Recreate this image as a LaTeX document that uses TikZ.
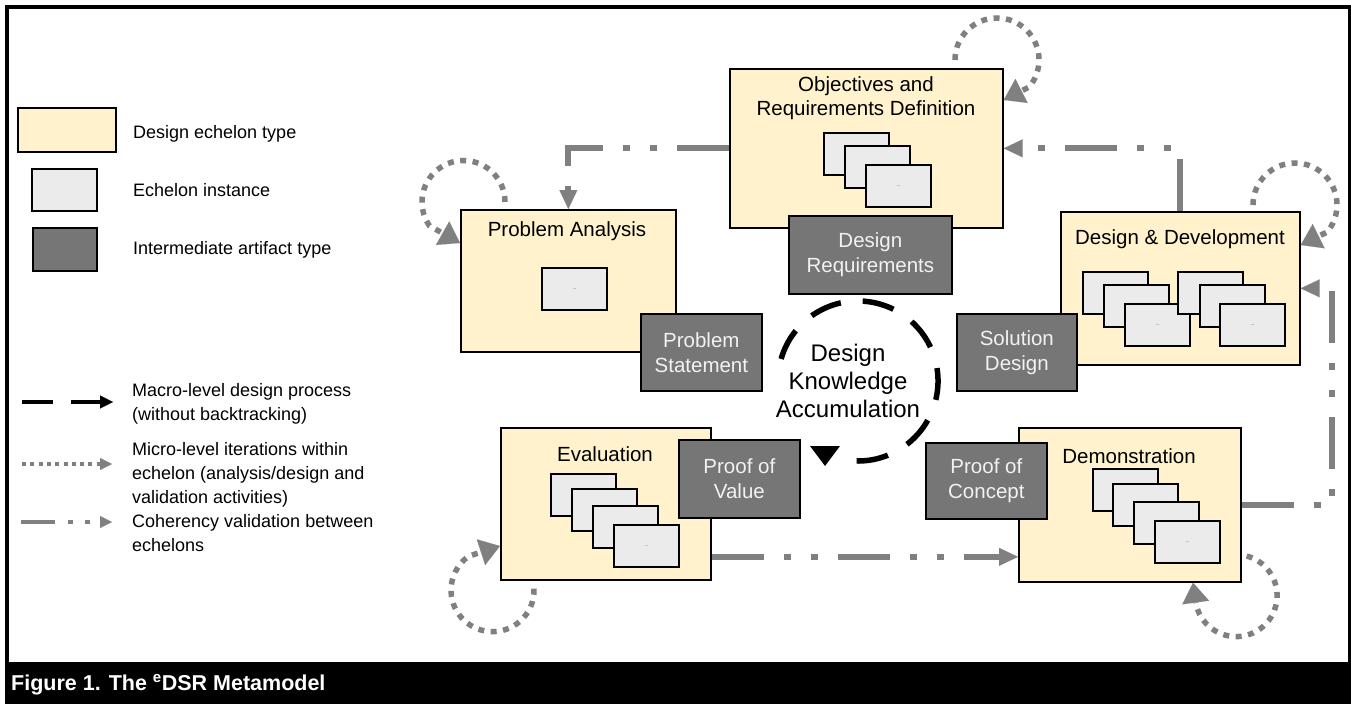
\documentclass[tikz,border=0pt]{standalone}
\usepackage{fontspec}
\setmainfont{Liberation Sans}
\usetikzlibrary{arrows.meta,calc}
\definecolor{cream}{HTML}{FFF2CC}
\definecolor{instgrey}{HTML}{EBEBEB}
\definecolor{artgrey}{HTML}{767676}
\definecolor{linegrey}{HTML}{808080}
\definecolor{lighttext}{HTML}{F2F2F2}
\tikzset{
  echelon/.style={draw=black, line width=1.7pt, fill=cream, inner sep=0pt, anchor=north west},
  inst/.style={draw=black, line width=1.7pt, fill=instgrey, inner sep=0pt, anchor=north west,
    minimum width=65pt, minimum height=42pt, font=\fontsize{4}{4}\selectfont},
  artifact/.style={draw=black, line width=1.7pt, fill=artgrey, text=lighttext, align=center,
    inner sep=0pt, anchor=north west, font=\fontsize{20.5}{25}\selectfont},
  etitle/.style={align=center, inner sep=0pt, font=\fontsize{20.5}{24}\selectfont},
  legtext/.style={anchor=west, align=left, inner sep=0pt, font=\fontsize{18}{24}\selectfont},
  coher/.style={draw=linegrey, line width=6pt,
    dash pattern=on 52pt off 20pt on 7pt off 20pt on 7pt off 20pt,
    -{Triangle[length=19pt,width=18pt,line width=0.1pt]}},
  micro/.style={draw=linegrey, line width=5.5pt, dash pattern=on 6pt off 6.5pt,
    -{Triangle[length=20pt,width=27pt,line width=0.1pt]}},
}
\begin{document}
\begin{tikzpicture}[x=1pt,y=-1pt]
\useasboundingbox (0,0) rectangle (1351,704);

% frame and caption bar
\draw[line width=3.5pt] (7,664) -- (7,7) -- (1349.5,7) -- (1349.5,664);
\fill[black] (5,662) rectangle (1351,704);
\node[anchor=base west, inner sep=0pt, text=white, font=\bfseries\fontsize{21.5}{22}\selectfont]
  (caption) at (11,690) {Figure 1. The \textsuperscript{e}DSR Metamodel};

% legend
\node[echelon, minimum width=98pt, minimum height=44pt] (lgE) at (17,107) {};
\node[inst] (lgI) at (31,168) {};
\node[artifact, minimum width=64pt, minimum height=43pt] (lgA) at (32,227) {};
\node[legtext] (lgEt) at (133,134) {Design echelon type};
\node[legtext] (lgIt) at (133,190) {Echelon instance};
\node[legtext] (lgAt) at (133,250) {Intermediate artifact type};

\coordinate (maA) at (22,402);  \coordinate (maB) at (113,402);
\coordinate (miA) at (22,464);  \coordinate (miB) at (112,464);
\coordinate (coA) at (21,522);  \coordinate (coB) at (112,522);
\draw[black, line width=4pt, dash pattern=on 31pt off 18pt,
  -{Triangle[length=13pt,width=13pt,line width=0.1pt]}] (maA) -- (maB);
\draw[linegrey, line width=4pt, dash pattern=on 4pt off 4.3pt,
  -{Triangle[length=12pt,width=12pt,line width=0.1pt]}] (miA) -- (miB);
\draw[linegrey, line width=4.5pt, dash pattern=on 34pt off 13pt on 5pt off 12pt on 5pt off 10pt,
  -{Triangle[length=12pt,width=12pt,line width=0.1pt]}] (coA) -- (coB);
\node[legtext] (lgMa) at (132,404) {Macro-level design process\\(without backtracking)};
\node[legtext] (lgMi) at (132,475) {Micro-level iterations within\\echelon (analysis/design and\\validation activities)};
\node[legtext] (lgCo) at (132,533) {Coherency validation between\\echelons};

% design echelons
\node[echelon, minimum width=215pt, minimum height=142pt] (PA)  at (460,209) {};
\node[echelon, minimum width=273pt, minimum height=159pt] (ORD) at (729,68) {};
\node[echelon, minimum width=239pt, minimum height=153pt] (DD)  at (1060,211) {};
\node[echelon, minimum width=222pt, minimum height=154pt] (DEM) at (1018,427) {};
\node[echelon, minimum width=210pt, minimum height=152pt] (EV)  at (500,427) {};

\node[etitle] (PAt)  at (567,231) {Problem Analysis};
\node[etitle] (ORDt) at (866,98) {Objectives and\\Requirements Definition};
\node[etitle] (DDt)  at (1180,239) {Design \& Development};
\node[etitle] (DEMt) at (1129,456) {Demonstration};
\node[etitle] (EVt)  at (605,454) {Evaluation};

% echelon instances
\node[inst] (pa1) at (541,267) {...};

\node[inst] (or1) at (823,132) {};
\node[inst] (or2) at (844,145) {};
\node[inst] (or3) at (865,164) {...};

\node[inst] (da1) at (1082,271) {};
\node[inst] (da2) at (1103,284) {};
\node[inst] (da3) at (1124,303) {...};
\node[inst] (db1) at (1177,271) {};
\node[inst] (db2) at (1199,284) {};
\node[inst] (db3) at (1219,303) {...};

\node[inst] (de1) at (1092,468) {};
\node[inst] (de2) at (1112,483) {};
\node[inst] (de3) at (1133,501) {};
\node[inst] (de4) at (1154,520) {...};

\node[inst] (ev1) at (550,473) {};
\node[inst] (ev2) at (571,488) {};
\node[inst] (ev3) at (592,505) {};
\node[inst] (ev4) at (613,524) {...};

% intermediate artifacts
\node[artifact, minimum width=163pt, minimum height=78pt] (DR)  at (788,215) {Design\\Requirements};
\node[artifact, minimum width=121pt, minimum height=77pt] (PS)  at (640,313) {Problem\\Statement};
\node[artifact, minimum width=120pt, minimum height=77pt] (SD)  at (956,313) {Solution\\Design};
\node[artifact, minimum width=121pt, minimum height=76pt] (POC) at (925,442) {Proof of\\Concept};
\node[artifact, minimum width=121pt, minimum height=78pt] (POV) at (678,439) {Proof of\\Value};

% design knowledge accumulation cycle
\draw[black, line width=5.5pt, dash pattern=on 32pt off 22pt]
  (858,381) ++(196:80) arc[start angle=196, end angle=457, radius=80];
\fill[black] (810,446) -- (840,446) -- (825,466) -- cycle;
\node[align=center, inner sep=0pt, font=\fontsize{24}{28}\selectfont] (DKA) at (848,381)
  {Design\\Knowledge\\Accumulation};

% coherency validation between echelons
\draw[coher] (ORD.west) -| (PA.north);
\draw[coher] (DD.north) |- (ORD.east);
\draw[coher] (DEM.east) -- ++(90,0) |- (DD.east);
\coordinate (evout) at ([yshift=-53pt]EV.east);
\draw[coher] (evout) -- (evout -| DEM.west);

% micro-level iterations within each echelon
\draw[micro] ([shift={(45,-7)}]PA.north west)
  arc[start angle=0, end angle=-215, radius=41.5] -- ([yshift=-34pt]PA.north west);
\draw[micro] ([shift={(226,-8)}]ORD.north west)
  arc[start angle=180, end angle=400, radius=42] -- ([yshift=-32pt]ORD.north east);
\draw[micro] ([shift={(193,-6)}]DD.north west)
  arc[start angle=180, end angle=400, radius=42] -- ([yshift=-34pt]DD.north east);
\draw[micro] ([shift={(5,129)}]DEM.north east)
  arc[start angle=-75, end angle=170, radius=41] -- ([xshift=175pt]DEM.south west);
\draw[micro] ([shift={(34,8)}]EV.south west)
  arc[start angle=-2, end angle=235, radius=41.5] -- ([yshift=-119pt]EV.north west);
\end{tikzpicture}
\end{document}
